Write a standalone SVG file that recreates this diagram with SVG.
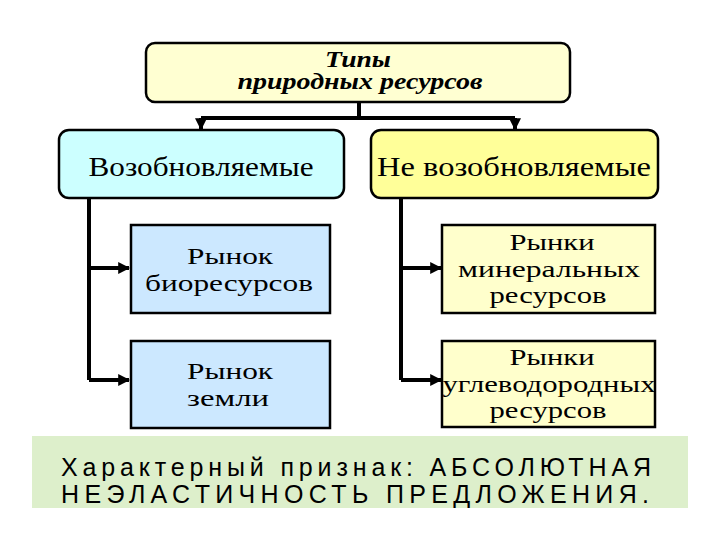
<svg xmlns="http://www.w3.org/2000/svg" width="720" height="540" viewBox="0 0 720 540">
<style>
.box{stroke:#000;stroke-width:2.5}
.t{font-family:"Liberation Serif","DejaVu Serif",serif;fill:#000;text-anchor:middle}
.h{font-weight:bold;font-style:italic;font-size:24px}
.m{font-size:28px}
.s{font-size:24px}
.b{font-family:"Liberation Sans","DejaVu Sans",sans-serif;font-size:25px;fill:#000}
.c{fill:none;stroke:#000;stroke-width:4}
</style>
<defs>
<marker id="ar" viewBox="0 0 10 10" refX="9" refY="5" markerWidth="3" markerHeight="3" orient="auto" markerUnits="strokeWidth">
<path d="M0,0 L10,5 L0,10 z" fill="#000"/>
</marker>
</defs>
<rect width="720" height="540" fill="#fff"/>
<g id="bottom">
<rect x="32" y="436" width="656" height="72" fill="#DDEFCB"/>
<text class="b" x="61" y="476" textLength="590" lengthAdjust="spacing">Характерный признак: АБСОЛЮТНАЯ</text>
<text class="b" x="61" y="503" textLength="588" lengthAdjust="spacing">НЕЭЛАСТИЧНОСТЬ ПРЕДЛОЖЕНИЯ.</text>
</g>
<g id="connectors">
<path class="c" d="M359,102 V118 M201,118 H515"/>
<path class="c" d="M201,118 V129" marker-end="url(#ar)"/>
<path class="c" d="M515,118 V129" marker-end="url(#ar)"/>
<path class="c" d="M89,198 V380 M89,268 H129" marker-end="url(#ar)"/>
<path class="c" d="M89,380 H129" marker-end="url(#ar)"/>
<path class="c" d="M401,198 V380 M401,268 H441" marker-end="url(#ar)"/>
<path class="c" d="M401,380 H441" marker-end="url(#ar)"/>
</g>
<g id="root">
<rect class="box" x="146" y="43" width="424" height="59" rx="9" fill="#FFFFD2"/>
<text class="t h" x="358" y="67" textLength="66" lengthAdjust="spacingAndGlyphs">Типы</text>
<text class="t h" x="360" y="89" textLength="245" lengthAdjust="spacingAndGlyphs">природных ресурсов</text>
</g>
<g id="renewable">
<rect class="box" x="59" y="130" width="285" height="68" rx="10" fill="#CCFFFF"/>
<text class="t m" x="201" y="176" textLength="225" lengthAdjust="spacingAndGlyphs">Возобновляемые</text>
</g>
<g id="nonrenewable">
<rect class="box" x="371" y="130" width="287" height="68" rx="10" fill="#FFFF99"/>
<text class="t m" x="514" y="176" textLength="274" lengthAdjust="spacingAndGlyphs">Не возобновляемые</text>
</g>
<g id="bio">
<rect class="box" x="131" y="225" width="199" height="88" fill="#CCE8FF"/>
<text class="t s" x="230" y="264" textLength="86" lengthAdjust="spacingAndGlyphs">Рынок</text>
<text class="t s" x="229" y="291" textLength="168" lengthAdjust="spacingAndGlyphs">биоресурсов</text>
</g>
<g id="land">
<rect class="box" x="131" y="341" width="199" height="87" fill="#CCE8FF"/>
<text class="t s" x="230" y="379" textLength="86" lengthAdjust="spacingAndGlyphs">Рынок</text>
<text class="t s" x="228" y="406" textLength="82" lengthAdjust="spacingAndGlyphs">земли</text>
</g>
<g id="mineral">
<rect class="box" x="442" y="225" width="213" height="88" fill="#FFFFCC"/>
<text class="t s" x="552" y="250" textLength="85" lengthAdjust="spacingAndGlyphs">Рынки</text>
<text class="t s" x="549" y="277" textLength="182" lengthAdjust="spacingAndGlyphs">минеральных</text>
<text class="t s" x="548" y="303" textLength="117" lengthAdjust="spacingAndGlyphs">ресурсов</text>
</g>
<g id="hydrocarbon">
<rect class="box" x="442" y="341" width="213" height="86" fill="#FFFFCC"/>
<text class="t s" x="552" y="365" textLength="85" lengthAdjust="spacingAndGlyphs">Рынки</text>
<text class="t s" x="549" y="392" textLength="213" lengthAdjust="spacingAndGlyphs">углеводородных</text>
<text class="t s" x="548" y="418" textLength="117" lengthAdjust="spacingAndGlyphs">ресурсов</text>
</g>
</svg>
